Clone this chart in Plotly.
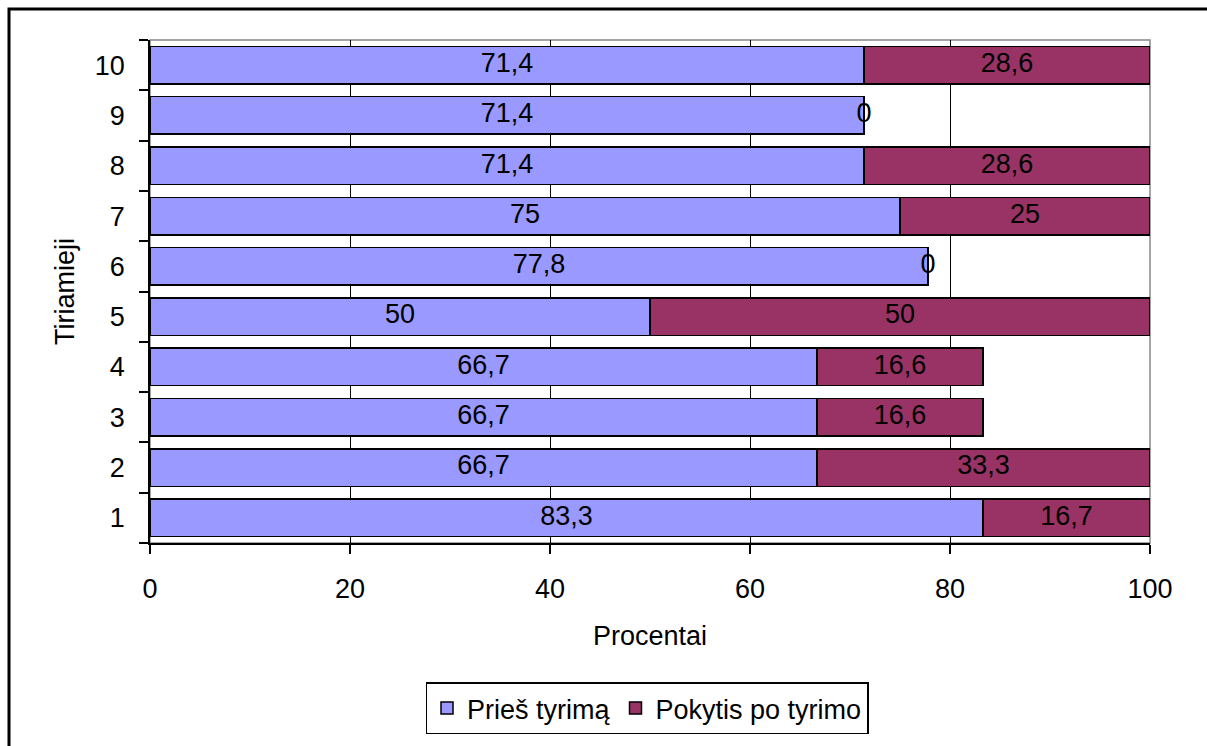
import plotly.graph_objects as go

# Respondents (bottom to top) and their percentages
subjects = ["1", "2", "3", "4", "5", "6", "7", "8", "9", "10"]
pries_tyrima = [83.3, 66.7, 66.7, 66.7, 50, 77.8, 75, 71.4, 71.4, 71.4]
pokytis = [16.7, 33.3, 16.6, 16.6, 50, 0, 25, 28.6, 0, 28.6]
x_ticks = [0, 20, 40, 60, 80, 100]

FONT = "Liberation Sans, Arial, sans-serif"
FS = 27
BLUE = "#9999FF"
MAROON = "#993366"


def fmt(v):
    return f"{v:g}".replace(".", ",")


fig = go.Figure()
fig.add_trace(go.Bar(
    name="Prieš tyrimą", y=subjects, x=pries_tyrima, orientation="h",
    marker=dict(color=BLUE, line=dict(color="black", width=1.5)),
))
fig.add_trace(go.Bar(
    name="Pokytis po tyrimo", y=subjects, x=pokytis, orientation="h",
    marker=dict(color=MAROON, line=dict(color="black", width=1.5)),
))

# Value labels centred in each segment (zero segments show at the bar end)
label_x = [v / 2 for v in pries_tyrima] + [a + b / 2 for a, b in zip(pries_tyrima, pokytis)]
label_y = subjects + subjects
label_t = [fmt(v) for v in pries_tyrima] + [fmt(v) for v in pokytis]
fig.add_trace(go.Scatter(
    x=label_x, y=label_y, text=label_t, mode="text",
    textfont=dict(family=FONT, size=FS, color="black"),
    textposition="middle center", showlegend=False, hoverinfo="skip",
))

ml, mt, pw, ph = 150, 40, 1000, 505
fig.update_layout(
    width=1207, height=746,
    margin=dict(l=ml, r=1207 - ml - pw, t=mt, b=746 - mt - ph),
    paper_bgcolor="white", plot_bgcolor="white",
    barmode="stack", bargap=0.255,
    font=dict(family=FONT, size=FS, color="black"),
    showlegend=True,
    legend=dict(
        orientation="h", x=0.497, xanchor="center",
        y=-(685 - (mt + ph)) / ph, yanchor="top",
        bordercolor="black", borderwidth=1.5,
        font=dict(size=FS), traceorder="normal",
        itemwidth=30,
    ),
    xaxis=dict(
        range=[0, 100], tickvals=x_ticks, ticktext=[str(t) for t in x_ticks],
        tickfont=dict(size=FS),
        showgrid=True, gridcolor="black", gridwidth=1,
        showline=True, linecolor="black", linewidth=1.5,
        ticks="outside", ticklen=9, tickcolor="black", tickwidth=1.5,
        ticklabelstandoff=12, zeroline=False,
        title=dict(text="Procentai", font=dict(size=FS), standoff=23),
    ),
    yaxis=dict(
        categoryorder="array", categoryarray=subjects,
        tickfont=dict(size=FS),
        showgrid=False, showline=True, linecolor="black", linewidth=1.5,
        ticks="outside", ticklen=9, tickcolor="black", tickwidth=1.5,
        tickson="boundaries", ticklabelstandoff=18,
        title=dict(text="Tiriamieji", font=dict(size=FS), standoff=12),
    ),
    shapes=[
        # plot-area frame (grey)
        dict(type="rect", xref="paper", yref="paper", x0=0, x1=1, y0=0, y1=1,
             line=dict(color="#888888", width=1.5), layer="below"),
        # outer chart border
        dict(type="rect", xref="paper", yref="paper",
             x0=(9 - ml) / pw, x1=1.2, y0=-0.6, y1=(mt + ph - 9) / ph,
             line=dict(color="black", width=3)),
    ],
)

fig.write_html("out.html")
